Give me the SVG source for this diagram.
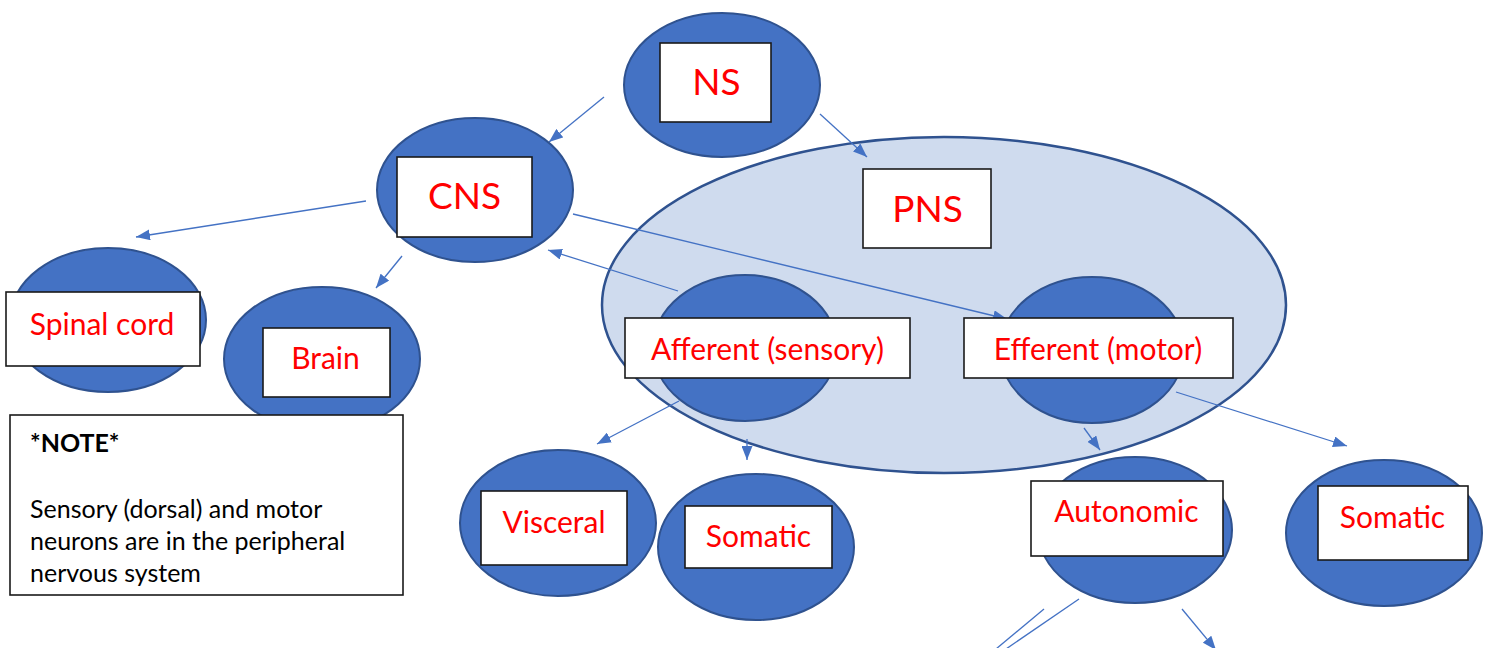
<svg xmlns="http://www.w3.org/2000/svg" width="1487" height="648" viewBox="0 0 1487 648">
<defs>
<style>
.ell{fill:#4472C4;stroke:#2F528F;stroke-width:2}
.big{fill:#CFDBEE;stroke:#2F528F;stroke-width:2.5}
.box{fill:#FFFFFF;stroke:#1a1a1a;stroke-width:1.6}
.lbl{font-family:Lato,"Liberation Sans",sans-serif;fill:#FF0000;text-anchor:middle;font-size:30px}
.lg{font-size:37px}
.note{font-family:Lato,"Liberation Sans",sans-serif;fill:#000000;font-size:25px}
.con{stroke:#4472C4;stroke-width:1.3;fill:none}
</style>
<marker id="ah" viewBox="0 0 14 11" refX="14" refY="5.5" markerWidth="14" markerHeight="11" markerUnits="userSpaceOnUse" orient="auto">
<path d="M0,0 L14,5.5 L0,11 z" fill="#4472C4"/>
</marker>
</defs>
<rect width="1487" height="648" fill="#FFFFFF"/>
<g id="PNS">
<ellipse class="big" cx="944" cy="305" rx="342" ry="168"/>
<rect class="box" x="863" y="169" width="128" height="79"/>
<text class="lbl lg" x="927.5" y="222">PNS</text>
</g>
<g id="connectors">
<line class="con" x1="604" y1="97" x2="549" y2="142" marker-end="url(#ah)"/>
<line class="con" x1="820" y1="114" x2="867" y2="157" marker-end="url(#ah)"/>
<line class="con" x1="366" y1="201" x2="136" y2="237" marker-end="url(#ah)"/>
<line class="con" x1="402" y1="256" x2="376" y2="288" marker-end="url(#ah)"/>
<line class="con" x1="573" y1="214" x2="1007" y2="319" marker-end="url(#ah)"/>
<line class="con" x1="678" y1="291" x2="548" y2="250" marker-end="url(#ah)"/>
<line class="con" x1="679" y1="401" x2="597" y2="444" marker-end="url(#ah)"/>
<line class="con" x1="747" y1="439" x2="747" y2="460" marker-end="url(#ah)"/>
<line class="con" x1="1084" y1="428" x2="1100" y2="450" marker-end="url(#ah)"/>
<line class="con" x1="1176" y1="392" x2="1347" y2="446" marker-end="url(#ah)"/>
<line class="con" x1="1044" y1="609" x2="996" y2="649"/>
<line class="con" x1="1079" y1="599" x2="1006" y2="649"/>
<line class="con" x1="1182" y1="609" x2="1216" y2="650" marker-end="url(#ah)"/>
</g>
<g id="NS">
<ellipse class="ell" cx="722" cy="85" rx="98" ry="72"/>
<rect class="box" x="660" y="43" width="111" height="79"/>
<text class="lbl lg" x="716.5" y="95">NS</text>
</g>
<g id="CNS">
<ellipse class="ell" cx="475" cy="190" rx="98" ry="72"/>
<rect class="box" x="397" y="157" width="135" height="80"/>
<text class="lbl lg" x="464.5" y="209">CNS</text>
</g>
<g id="SpinalCord">
<ellipse class="ell" cx="108" cy="320" rx="98" ry="72"/>
<rect class="box" x="6" y="292" width="194" height="74"/>
<text class="lbl" x="102" y="335">Spinal cord</text>
</g>
<g id="Brain">
<ellipse class="ell" cx="322" cy="359" rx="98" ry="72"/>
<rect class="box" x="263" y="328" width="127" height="69"/>
<text class="lbl" x="325.5" y="369">Brain</text>
</g>
<g id="Note">
<rect class="box" x="10" y="415" width="393" height="180"/>
<text class="note" x="30" y="452" font-weight="bold">*NOTE*</text>
<text class="note" x="30" y="518">Sensory (dorsal) and motor</text>
<text class="note" x="30" y="550">neurons are in the peripheral</text>
<text class="note" x="30" y="582">nervous system</text>
</g>
<g id="Afferent">
<ellipse class="ell" cx="745" cy="348" rx="92" ry="73"/>
<rect class="box" x="625" y="318" width="285" height="60"/>
<text class="lbl" x="767.5" y="360">Afferent (sensory)</text>
</g>
<g id="Efferent">
<ellipse class="ell" cx="1092" cy="350" rx="92" ry="73"/>
<rect class="box" x="964" y="318" width="269" height="60"/>
<text class="lbl" x="1098" y="360">Efferent (motor)</text>
</g>
<g id="Visceral">
<ellipse class="ell" cx="558" cy="523" rx="98" ry="73"/>
<rect class="box" x="481" y="491" width="146" height="74"/>
<text class="lbl" x="554" y="533">Visceral</text>
</g>
<g id="SomaticLeft">
<ellipse class="ell" cx="756" cy="547" rx="98" ry="73"/>
<rect class="box" x="685" y="506" width="147" height="62"/>
<text class="lbl" x="758.5" y="547">Somatic</text>
</g>
<g id="Autonomic">
<ellipse class="ell" cx="1135" cy="530" rx="97" ry="73"/>
<rect class="box" x="1031" y="481" width="192" height="75"/>
<text class="lbl" x="1126.5" y="522">Autonomic</text>
</g>
<g id="SomaticRight">
<ellipse class="ell" cx="1384" cy="533" rx="98" ry="73"/>
<rect class="box" x="1318" y="486" width="150" height="74"/>
<text class="lbl" x="1392.5" y="528">Somatic</text>
</g>
</svg>
